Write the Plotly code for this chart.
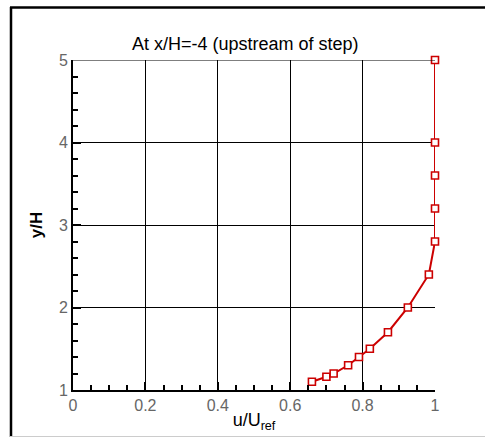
import plotly.graph_objects as go

u_ratio = [0.66, 0.70, 0.72, 0.76, 0.79, 0.82, 0.87, 0.925, 0.983, 1.0, 1.0, 1.0, 1.0, 1.0]
y_over_h = [1.1, 1.16, 1.2, 1.3, 1.4, 1.5, 1.7, 2.0, 2.4, 2.8, 3.2, 3.6, 4.0, 5.0]
x_ticks = [0, 0.2, 0.4, 0.6, 0.8, 1]
x_tick_labels = ["0", "0.2", "0.4", "0.6", "0.8", "1"]
y_ticks = [1, 2, 3, 4, 5]
y_tick_labels = ["1", "2", "3", "4", "5"]

W, H = 485, 438
L, R, T, B = 73, 50, 60, 48
pw, ph = W - L - R, H - T - B

def px(xp):
    return (xp - L) / pw

def py(yp):
    return (H - B - yp) / ph

fig = go.Figure()
fig.add_trace(go.Scatter(
    x=u_ratio, y=y_over_h, mode="lines+markers",
    line=dict(color="#cc0000", width=2),
    marker=dict(symbol="square", size=7, color="white",
                line=dict(color="#cc0000", width=1.6)),
    showlegend=False, cliponaxis=False,
))

font = "Liberation Sans, Arial, sans-serif"
fig.update_layout(
    width=W, height=H,
    margin=dict(l=L, r=R, t=T, b=B, pad=0),
    paper_bgcolor="white", plot_bgcolor="white",
    title=dict(text="At x/H=-4 (upstream of step)", x=px(256), xanchor="center",
               y=1 - 44 / H, yanchor="middle",
               font=dict(family=font, size=18, color="black")),
    xaxis=dict(range=[0, 1], tickvals=x_ticks, ticktext=x_tick_labels,
               showgrid=True, gridcolor="black", gridwidth=1,
               showline=True, linecolor="black", linewidth=2,
               ticks="inside", ticklen=8, tickcolor="black", tickwidth=1.5,
               minor=dict(dtick=0.05, ticks="inside", ticklen=5, tickcolor="black", showgrid=False),
               tickfont=dict(family=font, size=16, color="#666"),
               title=dict(text="u/U<sub>ref</sub>", standoff=0,
                          font=dict(family=font, size=18, color="black")),
               zeroline=False, mirror=False),
    yaxis=dict(range=[1, 5], tickvals=y_ticks, ticktext=y_tick_labels,
               showgrid=True, gridcolor="black", gridwidth=1,
               showline=True, linecolor="black", linewidth=2,
               ticks="inside", ticklen=8, tickcolor="black", tickwidth=1.5,
               minor=dict(dtick=0.2, ticks="inside", ticklen=5, tickcolor="black", showgrid=False),
               tickfont=dict(family=font, size=16, color="#666"),
               title=dict(text="<b>y/H</b>", standoff=12,
                          font=dict(family=font, size=17, color="black")),
               zeroline=False),
    shapes=[
        dict(type="line", xref="x", yref="y", x0=0, x1=1, y0=5, y1=5,
             line=dict(color="black", width=1.2)),
        dict(type="line", xref="paper", yref="paper", x0=px(11), x1=px(11), y0=py(7), y1=py(437),
             line=dict(color="black", width=2.5)),
        dict(type="line", xref="paper", yref="paper", x0=px(10), x1=px(490), y0=py(7.5), y1=py(7.5),
             line=dict(color="black", width=2.5)),
        dict(type="line", xref="paper", yref="paper", x0=px(10), x1=px(490), y0=py(436.5), y1=py(436.5),
             line=dict(color="#cccccc", width=1)),
    ],
)

fig.write_html("out.html")
